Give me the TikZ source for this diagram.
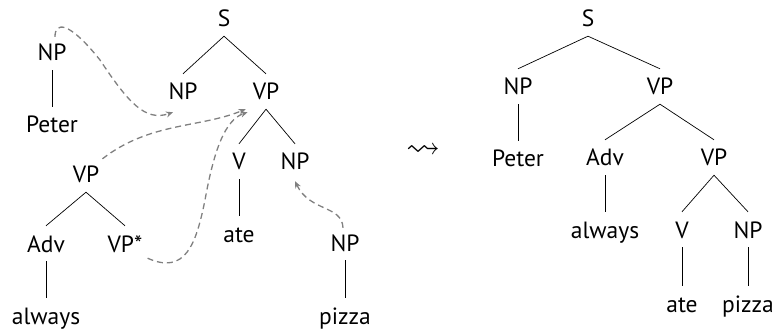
\documentclass[tikz,border=0pt]{standalone}
\usepackage{fontspec}
\setmainfont{PT Sans}
\usepackage{amssymb}
\usetikzlibrary{arrows.meta,calc}
\begin{document}
\begin{tikzpicture}[x=1pt,y=-1pt,
  lbl/.style={anchor=base, font=\fontsize{23.5}{28}\selectfont, text height=20pt, text depth=3pt, inner xsep=3pt, inner ysep=6pt},
  edge/.style={draw=black, line width=0.7pt},
  move/.style={draw=gray, line width=1.3pt, dash pattern=on 6pt off 4pt, -{Stealth[length=7pt,width=6pt]}}]
\useasboundingbox (0,0) rectangle (776,331);
% left: initial tree
\node[lbl] (S) at (224,27) {S};
\node[lbl] (NP1) at (183,100) {NP};
\node[lbl] (VP1) at (266,100) {VP};
\node[lbl] (V) at (239,170) {V};
\node[lbl] (NP2) at (295,170) {NP};
\node[lbl] (ate) at (239,242) {ate};
\draw[edge] (S.south) -- (NP1.north);
\draw[edge] (S.south) -- (VP1.north);
\draw[edge] (VP1.south) -- (V.north);
\draw[edge] (VP1.south) -- (NP2.north);
\draw[edge] (V.south) -- (ate.north);
% left: NP Peter
\node[lbl] (NPx) at (52,61) {NP};
\node[lbl] (Peter) at (52,133) {Peter};
\draw[edge] (NPx.south) -- (Peter.north);
% left: auxiliary tree
\node[lbl] (VPa) at (86,183) {VP};
\node[lbl] (Adv) at (46,252) {Adv};
\node[lbl] (VPs) at (125,252) {VP*};
\node[lbl] (always) at (46,324) {always};
\draw[edge] (VPa.south) -- (Adv.north);
\draw[edge] (VPa.south) -- (VPs.north);
\draw[edge] (Adv.south) -- (always.north);
% left: NP pizza
\node[lbl] (NPp) at (345,251) {NP};
\node[lbl] (pizza) at (345,324) {pizza};
\draw[edge] (NPp.south) -- (pizza.north);
% dashed moves
\draw[move] ($(NPx.north)+(3,2)$) .. controls (55,22) and (68,20) .. (100,60)
   .. controls (128,102) and (145,122) .. ($(NP1.south)+(-10,3)$);
\draw[move] ($(VPa.north east)+(0,2)$) .. controls (150,122) and (200,128) .. ($(VP1.south west)+(-4,0)$);
\draw[move] ($(VPs.south east)+(2,-3)$) .. controls (185,275) and (196,245) .. (205,200)
   .. controls (214,150) and (225,120) .. ($(VP1.south west)+(-2,3)$);
\draw[move] ($(NPp.north)+(-2,3)$) .. controls (342,205) and (310,212) .. ($(NP2.south)+(0,2)$);
% arrow
\node[font=\fontsize{20}{24}\selectfont] (to) at (423,151) {\scalebox{1.7}{$\leadsto$}};
% right: derived tree
\node[lbl] (rS) at (588,27) {S};
\node[lbl] (rNP) at (518,95) {NP};
\node[lbl] (rVP) at (660,95) {VP};
\node[lbl] (rPeter) at (518,167) {Peter};
\node[lbl] (rAdv) at (605,166) {Adv};
\node[lbl] (rVP2) at (714,166) {VP};
\node[lbl] (ralways) at (605,238) {always};
\node[lbl] (rV) at (682,238) {V};
\node[lbl] (rNP2) at (748,238) {NP};
\node[lbl] (rate) at (682,312) {ate};
\node[lbl] (rpizza) at (748,312) {pizza};
\draw[edge] (rS.south) -- (rNP.north);
\draw[edge] (rS.south) -- (rVP.north);
\draw[edge] (rNP.south) -- (rPeter.north);
\draw[edge] (rVP.south) -- (rAdv.north);
\draw[edge] (rVP.south) -- (rVP2.north);
\draw[edge] (rAdv.south) -- (ralways.north);
\draw[edge] (rVP2.south) -- (rV.north);
\draw[edge] (rVP2.south) -- (rNP2.north);
\draw[edge] (rV.south) -- (rate.north);
\draw[edge] (rNP2.south) -- (rpizza.north);
\end{tikzpicture}
\end{document}
